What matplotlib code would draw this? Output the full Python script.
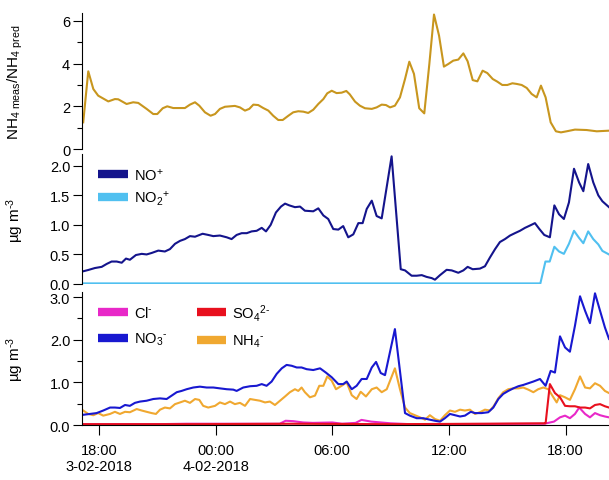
import datetime as dt
import matplotlib
matplotlib.use("Agg")
import matplotlib.pyplot as plt
from matplotlib.lines import Line2D

plt.rcParams['font.family'] = ['Liberation Sans', 'DejaVu Sans']
plt.rcParams['mathtext.fontset'] = 'custom'
plt.rcParams['mathtext.rm'] = 'Liberation Sans'
plt.rcParams['mathtext.it'] = 'Liberation Sans:italic'
plt.rcParams['mathtext.bf'] = 'Liberation Sans:bold'
plt.rcParams['font.size'] = 10.5

# hours after 3-02-2018 18:00
base = dt.datetime(2018, 2, 3, 18, 0)

ratio_h = [-0.81, -0.55, -0.29, -0.04, 0.48, 0.82, 0.99, 1.42, 1.76, 2.02, 2.45, 2.79, 3.00,
           3.28, 3.51, 3.82, 4.42, 4.68, 4.94, 5.16, 5.45, 5.74, 5.97, 6.22, 6.48, 6.99, 7.25,
           7.51, 7.73, 7.94, 8.19, 8.45, 8.71, 8.96, 9.22, 9.45, 9.74, 9.99, 10.25, 10.51, 10.76,
           11.02, 11.28, 11.54, 11.74, 11.97, 12.22, 12.48, 12.72, 12.90, 13.17, 13.42, 13.68,
           14.03, 14.28, 14.54, 14.76, 14.97, 15.22, 15.48, 15.74, 15.96, 16.20, 16.47, 16.73,
           16.99, 17.23, 17.49, 17.74, 17.96, 18.22, 18.48, 18.74, 18.96, 19.22, 19.46, 19.73,
           19.97, 20.25, 20.48, 20.74, 21.00, 21.26, 21.48, 21.74, 22.00, 22.25, 22.51, 22.73,
           22.97, 23.23, 23.50, 23.76, 24.05, 24.48, 25.08, 25.60, 26.23]
ratio = [1.25, 3.64, 2.81, 2.5, 2.23, 2.34, 2.33, 2.11, 2.19, 2.16, 1.88, 1.64, 1.64,
         1.91, 2.0, 1.92, 1.92, 2.08, 2.19, 2.03, 1.72, 1.56, 1.64, 1.88, 1.98, 2.02, 1.95,
         1.8, 1.88, 2.08, 2.06, 1.92, 1.8, 1.56, 1.36, 1.36, 1.56, 1.72, 1.77, 1.75, 1.69,
         1.84, 2.11, 2.34, 2.61, 2.73, 2.62, 2.64, 2.72, 2.56, 2.22, 2.03, 1.91,
         1.88, 1.95, 2.08, 2.06, 1.95, 2.03, 2.42, 3.28, 4.09, 3.52, 1.91, 1.67,
         3.98, 6.3, 5.31, 3.86, 3.98, 4.14, 4.19, 4.48, 4.11, 3.23, 3.17, 3.67,
         3.56, 3.28, 3.16, 3.0, 3.0, 3.08, 3.05, 3.0, 2.86, 2.58, 2.42, 2.97,
         2.42, 1.25, 0.83, 0.78, 0.83, 0.91, 0.89, 0.83, 0.86]

no_h = [-0.81, -0.55, -0.21, 0.14, 0.40, 0.65, 0.91, 1.17, 1.39, 1.59, 1.90, 2.20, 2.45, 2.71,
        3.05, 3.39, 3.65, 3.91, 4.17, 4.42, 4.68, 4.94, 5.33, 5.62, 5.88, 6.22, 6.57, 6.82,
        7.08, 7.34, 7.60, 7.85, 8.11, 8.37, 8.59, 8.83, 9.10, 9.36, 9.57, 9.79, 10.08, 10.34,
        10.59, 11.02, 11.28, 11.54, 11.79, 12.05, 12.31, 12.56, 12.82, 13.08, 13.34, 13.56,
        13.77, 14.03, 14.28, 14.54, 15.05, 15.52, 15.74, 16.08, 16.34, 16.60, 16.85, 17.11,
        17.28, 17.54, 17.88, 18.14, 18.48, 18.74, 18.96, 19.22, 19.59, 19.85, 20.11, 20.37,
        20.62, 20.88, 21.14, 21.39, 21.65, 21.91, 22.17, 22.42, 22.65, 22.90, 23.19, 23.42,
        23.66, 23.91, 24.17, 24.43, 24.69, 24.91, 25.16, 25.42, 25.68, 25.89, 26.23]
no_plus = [0.215, 0.237, 0.27, 0.29, 0.34, 0.38, 0.38, 0.36, 0.43, 0.41, 0.49, 0.51, 0.50, 0.525,
           0.565, 0.55, 0.59, 0.68, 0.73, 0.76, 0.81, 0.80, 0.85, 0.83, 0.81, 0.82, 0.79, 0.76,
           0.83, 0.86, 0.86, 0.89, 0.90, 0.95, 0.89, 1.0, 1.21, 1.31, 1.36, 1.33, 1.30, 1.31,
           1.24, 1.23, 1.28, 1.16, 1.10, 0.93, 0.92, 0.98, 0.79, 0.84, 1.03, 1.03,
           1.27, 1.41, 1.15, 1.11, 2.16, 0.25, 0.23, 0.14, 0.14, 0.15, 0.12, 0.10,
           0.073, 0.15, 0.24, 0.23, 0.19, 0.23, 0.29, 0.25, 0.26, 0.30, 0.45, 0.59,
           0.71, 0.76, 0.82, 0.86, 0.90, 0.95, 0.99, 1.03, 0.93, 0.83, 0.79, 1.33,
           1.18, 1.10, 1.38, 1.95, 1.72, 1.57, 2.03, 1.72, 1.50, 1.40, 1.30]

no2_h = [-0.81, 10.0, 22.70, 22.96, 23.18, 23.42, 23.66, 23.91, 24.17, 24.43, 24.69, 24.91,
         25.16, 25.42, 25.68, 25.89, 26.23]
no2_plus = [0.01, 0.01, 0.01, 0.38, 0.38, 0.63, 0.55, 0.51, 0.68, 0.90, 0.78, 0.69,
            0.89, 0.76, 0.67, 0.56, 0.50]

no3_h = [-0.81, -0.46, -0.12, 0.22, 0.57, 0.82, 1.08, 1.34, 1.59, 1.85, 2.11, 2.45, 2.79, 3.14,
         3.48, 3.74, 4.00, 4.25, 4.51, 4.85, 5.19, 5.54, 5.88, 6.22, 6.57, 6.91, 7.08, 7.42,
         7.77, 8.11, 8.37, 8.62, 8.88, 9.14, 9.40, 9.65, 9.91, 10.17, 10.42, 10.68, 11.02,
         11.37, 11.67, 11.97, 12.31, 12.56, 12.74, 13.00, 13.25, 13.51, 13.77, 14.03, 14.25,
         14.49, 14.71, 15.22, 15.74, 15.99, 16.34, 16.68, 17.02, 17.28, 17.54, 17.79, 18.05,
         18.31, 18.57, 18.82, 19.12, 19.34, 19.68, 20.02, 20.28, 20.54, 20.79, 21.05, 21.31,
         21.57, 21.82, 22.08, 22.34, 22.68, 22.97, 23.23, 23.45, 23.71, 23.97, 24.22, 24.48,
         24.74, 25.00, 25.25, 25.51, 25.77, 26.02, 26.23]
no3 = [0.24, 0.26, 0.28, 0.34, 0.41, 0.41, 0.40, 0.47, 0.45, 0.52, 0.55, 0.57, 0.61, 0.625,
       0.61, 0.69, 0.77, 0.80, 0.84, 0.88, 0.90, 0.88, 0.88, 0.86, 0.84, 0.83, 0.80, 0.88,
       0.91, 0.92, 0.96, 0.92, 1.02, 1.20, 1.33, 1.41, 1.39, 1.35, 1.35, 1.31, 1.29,
       1.33, 1.23, 1.12, 0.96, 0.96, 1.02, 0.84, 0.92, 1.08, 1.08, 1.35, 1.48,
       1.22, 1.17, 2.25, 0.28, 0.22, 0.16, 0.16, 0.125, 0.10, 0.08, 0.16, 0.26,
       0.23, 0.20, 0.22, 0.31, 0.28, 0.28, 0.30, 0.41, 0.61, 0.73, 0.80, 0.86,
       0.91, 0.94, 0.98, 1.02, 1.08, 0.92, 1.27, 1.23, 2.08, 1.82, 1.72, 2.33,
       3.02, 2.68, 2.39, 3.09, 2.68, 2.29, 2.02]

nh4_h = [-0.81, -0.55, -0.29, -0.04, 0.22, 0.57, 0.82, 1.08, 1.34, 1.59, 1.94, 2.20, 2.45, 2.71,
         2.93, 3.14, 3.39, 3.65, 3.91, 4.17, 4.42, 4.68, 4.94, 5.16, 5.36, 5.62, 5.97, 6.22,
         6.48, 6.74, 6.99, 7.25, 7.51, 7.77, 8.02, 8.28, 8.54, 8.79, 9.05, 9.31, 9.57, 9.82,
         10.08, 10.25, 10.42, 10.59, 10.85, 11.11, 11.33, 11.54, 11.74, 11.97, 12.19, 12.48,
         12.74, 13.00, 13.25, 13.46, 13.73, 14.03, 14.28, 14.54, 14.80, 15.22, 15.48, 15.74,
         15.99, 16.25, 16.51, 16.77, 17.02, 17.28, 17.54, 17.79, 18.05, 18.31, 18.57, 18.82,
         19.08, 19.34, 19.59, 19.85, 20.11, 20.31, 20.54, 20.79, 21.05, 21.31, 21.57, 21.82,
         22.08, 22.34, 22.59, 22.85, 23.11, 23.37, 23.54, 23.71, 23.97, 24.22, 24.48, 24.74,
         25.00, 25.25, 25.51, 25.77, 26.02, 26.23]
nh4 = [0.34, 0.26, 0.23, 0.28, 0.22, 0.26, 0.31, 0.26, 0.31, 0.30, 0.375, 0.34, 0.31, 0.28,
       0.26, 0.36, 0.41, 0.39, 0.49, 0.53, 0.57, 0.52, 0.61, 0.59, 0.45, 0.41, 0.45, 0.53,
       0.49, 0.55, 0.49, 0.52, 0.45, 0.61, 0.59, 0.57, 0.53, 0.55, 0.47, 0.57, 0.67, 0.77,
       0.84, 0.80, 0.88, 0.77, 0.65, 0.69, 0.92, 0.92, 1.14, 1.04, 0.84, 0.92,
       1.0, 0.70, 0.61, 0.78, 0.67, 0.84, 0.88, 0.77, 0.84, 1.33, 0.84, 0.41,
       0.28, 0.23, 0.18, 0.125, 0.23, 0.14, 0.10, 0.23, 0.34, 0.31, 0.36, 0.34,
       0.36, 0.26, 0.30, 0.36, 0.34, 0.45, 0.63, 0.77, 0.84, 0.86, 0.86, 0.88,
       0.83, 0.77, 0.84, 0.88, 0.84, 0.65, 0.53, 0.70, 0.65, 0.59, 0.84, 1.14,
       0.88, 0.86, 0.98, 0.92, 0.80, 0.75]

so4_h = [-0.81, 5.0, 10.0, 15.0, 20.0, 22.90, 22.97, 23.19, 23.45, 23.71, 23.97, 24.22, 24.48,
         24.74, 25.00, 25.25, 25.51, 25.77, 26.02, 26.23]
so4 = [0.02, 0.02, 0.03, 0.02, 0.03, 0.04, 0.04, 0.96, 0.75, 0.65, 0.45, 0.44, 0.44,
       0.41, 0.41, 0.39, 0.47, 0.49, 0.44, 0.41]

cl_h = [-0.81, 3.0, 4.5, 9.3, 9.6, 10.0, 10.5, 11.0, 12.0, 12.5, 13.2, 13.5, 14.0, 14.5, 15.0,
        15.5, 16.0, 22.9, 23.2, 23.4, 23.71, 23.97, 24.22, 24.48, 24.7, 25.0, 25.25, 25.51,
        25.77, 26.02, 26.23]
cl = [0.02, 0.02, 0.03, 0.03, 0.10, 0.09, 0.06, 0.05, 0.06, 0.03, 0.05, 0.12, 0.08, 0.06, 0.04,
      0.03, 0.02, 0.03, 0.06, 0.08, 0.18, 0.22, 0.16, 0.26, 0.41, 0.26, 0.18, 0.28,
      0.23, 0.20, 0.18]

tick_hours = [0, 6, 12, 18, 24]
tick_labels = ['18:00\n3-02-2018', '00:00\n4-02-2018', '06:00', '12:00', '18:00']


def to_time(hours):
    return [base + dt.timedelta(hours=h) for h in hours]


def patch(c):
    return Line2D([], [], color=c, lw=6, solid_capstyle='butt')


fig = plt.figure(figsize=(6.09, 4.81), dpi=100)
left, width = 0.1346, 0.8654
ax1 = fig.add_axes([left, 0.6881, width, 0.2827])
ax2 = fig.add_axes([left, 0.4075, width, 0.2703])
ax3 = fig.add_axes([left, 0.1143, width, 0.2765])

xmin = base - dt.timedelta(hours=0.874)
xmax = base + dt.timedelta(hours=26.23)

for ax in (ax1, ax2, ax3):
    ax.set_xlim(xmin, xmax)
    for s in ('top', 'right'):
        ax.spines[s].set_visible(False)
    ax.tick_params(axis='y', which='major', direction='out', length=6.5, width=0.8, pad=2)
    ax.tick_params(axis='y', which='minor', direction='out', length=3.5, width=0.8)
    ax.patch.set_alpha(0)

for ax in (ax1, ax2):
    ax.spines['bottom'].set_visible(False)
    ax.set_xticks([])

# top panel: ratio
ax1.plot(to_time(ratio_h), ratio, color='#C8961E', lw=1.5)
ax1.set_ylim(0, 6.37)
ax1.set_yticks([0, 2, 4, 6])
ax1.set_yticks([1, 3, 5], minor=True)
ax1.set_ylabel(r'NH$_{4\ \mathrm{meas}}$/NH$_{4\ \mathrm{pred}}$', fontsize=11)
ax1.yaxis.set_label_coords(-0.108, 0.5)

# middle panel: NO+ and NO2+
ax2.plot(to_time(no_h), no_plus, color='#14148C', lw=1.5)
ax2.plot(to_time(no2_h), no2_plus, color='#50C0F0', lw=1.5)
ax2.set_ylim(0, 2.2)
ax2.set_yticks([0, 0.5, 1.0, 1.5, 2.0])
ax2.set_yticklabels(['0.0', '0.5', '1.0', '1.5', '2.0'])
ax2.set_ylabel(r'µg m$^{\text{-}3}$', fontsize=11)
ax2.yaxis.set_label_coords(-0.106, 0.5)
ax2.legend([patch('#14148C'), patch('#50C0F0')], [r'NO$^{+}$', r'NO$_{2}$$^{+}$'],
           loc='upper left', bbox_to_anchor=(0.02, 0.95), frameon=False, handlelength=2.0,
           handletextpad=0.45, labelspacing=0.4, borderaxespad=0, fontsize=10.5)

# bottom panel: ions
ax3.plot(to_time(cl_h), cl, color='#E828C8', lw=1.5)
ax3.plot(to_time(nh4_h), nh4, color='#F0A830', lw=1.5)
ax3.plot(to_time(no3_h), no3, color='#1818D0', lw=1.5)
ax3.plot(to_time(so4_h), so4, color='#E8101E', lw=1.5)
ax3.set_ylim(0, 3.12)
ax3.set_yticks([0, 1, 2, 3])
ax3.set_yticklabels(['0.0', '1.0', '2.0', '3.0'])
ax3.set_yticks([0.5, 1.5, 2.5], minor=True)
ax3.set_ylabel(r'µg m$^{\text{-}3}$', fontsize=11)
ax3.yaxis.set_label_coords(-0.106, 0.5)
ax3.set_xticks(to_time(tick_hours))
ax3.set_xticklabels(tick_labels)
ax3.tick_params(axis='x', direction='out', length=7, width=0.8, pad=6)
ax3.legend([patch('#E828C8'), patch('#1818D0'), patch('#E8101E'), patch('#F0A830')],
           [r'Cl$^{\text{-}}$', r'NO$_{3}$$^{\text{-}}$', r'SO$_{4}$$^{\text{2-}}$',
            r'NH$_{4}$$^{\text{-}}$'], ncol=2,
           loc='upper left', bbox_to_anchor=(0.02, 0.97), frameon=False, handlelength=2.0,
           handletextpad=0.45, labelspacing=0.7, columnspacing=2.0, borderaxespad=0,
           fontsize=10.5)

fig.savefig('out.png', dpi=100)
